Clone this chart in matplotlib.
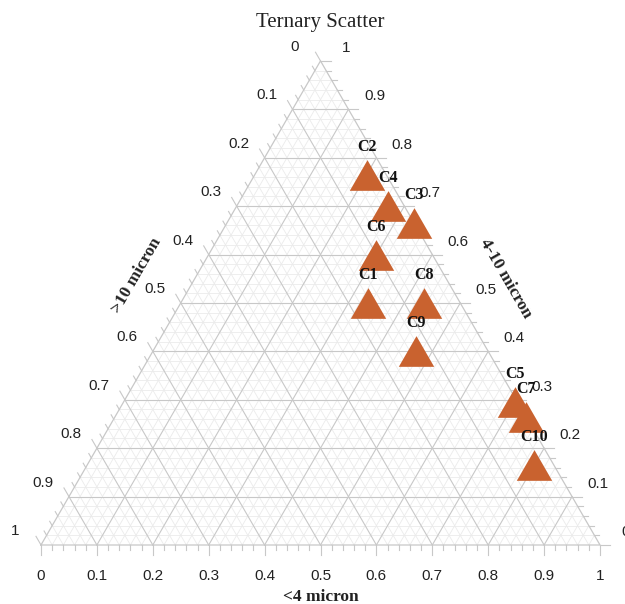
"""Ternary scatter of particle size fractions for samples C1-C10."""

import numpy as np
import matplotlib.pyplot as plt
from matplotlib.path import Path

# Sample names and their size fractions (each row sums to 1)
SAMPLES = ["C1", "C2", "C3", "C4", "C5", "C6", "C7", "C8", "C9", "C10"]
FINE = [0.335, 0.20, 0.335, 0.27, 0.70, 0.30, 0.735, 0.435, 0.47, 0.80]      # <4 micron
MEDIUM = [0.50, 0.765, 0.665, 0.70, 0.295, 0.60, 0.265, 0.50, 0.40, 0.165]   # 4-10 micron
COARSE = [0.165, 0.035, 0.0, 0.03, 0.005, 0.10, 0.0, 0.065, 0.13, 0.035]     # >10 micron

TICK_VALUES = np.round(np.arange(0, 1.01, 0.1), 1)
TICK_LABELS = ["0", "0.1", "0.2", "0.3", "0.4", "0.5", "0.6", "0.7", "0.8", "0.9", "1"]

H = np.sqrt(3) / 2
PX = 559.0  # pixels per unit side length

MAJOR_GRID = "#c8c8c8"
MINOR_GRID = "#ebebeb"
MARKER_COLOR = "#c9622f"
SERIF = "Liberation Serif"
SANS = "Liberation Sans"


def to_xy(a, b):
    """Fine fraction a, medium fraction b -> cartesian position."""
    a = np.asarray(a, dtype=float)
    b = np.asarray(b, dtype=float)
    return a + b / 2, b * H


fig = plt.figure(figsize=(6.25, 6.04), dpi=100)
ax = fig.add_axes([0, 0, 1, 1])
ax.set_xlim(-41 / PX, 584 / PX)
ax.set_ylim(-59 / PX, 545 / PX)
ax.axis("off")

# grid lines in the three directions, minor every 0.02 and major every 0.1
for i in range(1, 50):
    v = i / 50
    major = i % 5 == 0
    color = MAJOR_GRID if major else MINOR_GRID
    lw = 0.8 if major else 0.6
    z = 2 if major else 1
    # constant medium: horizontal
    xs, ys = to_xy([1 - v, 0], [v, v])
    ax.plot(xs, ys, color=color, lw=lw, zorder=z)
    # constant fine
    xs, ys = to_xy([v, v], [0, 1 - v])
    ax.plot(xs, ys, color=color, lw=lw, zorder=z)
    # constant coarse
    xs, ys = to_xy([1 - v, 0], [0, 1 - v])
    ax.plot(xs, ys, color=color, lw=lw, zorder=z)

# outline
xs, ys = to_xy([0, 1, 0, 0], [0, 0, 1, 0])
ax.plot(xs, ys, color=MAJOR_GRID, lw=0.9, zorder=2)

# ticks on the three edges
for i in range(51):
    v = i / 50
    ln = (10 if i % 5 == 0 else 5) / PX
    # bottom edge (fine), pointing down
    x0, y0 = to_xy(v, 0)
    ax.plot([x0, x0], [y0, y0 - ln], color=MAJOR_GRID, lw=0.8)
    # right edge (medium), pointing right
    x0, y0 = to_xy(1 - v, v)
    ax.plot([x0, x0 + ln], [y0, y0], color=MAJOR_GRID, lw=0.8)
    # left edge (coarse), pointing up-left
    x0, y0 = to_xy(0, 1 - v)
    ax.plot([x0, x0 - ln * 0.5], [y0, y0 + ln * H], color=MAJOR_GRID, lw=0.8)

for v, lab in zip(TICK_VALUES, TICK_LABELS):
    x0, y0 = to_xy(v, 0)
    ax.annotate(lab, (x0, y0), xytext=(0, -31), textcoords="offset pixels",
                ha="center", va="center", fontsize=11, family=SANS, color="#222222")
    x0, y0 = to_xy(1 - v, v)
    ax.annotate(lab, (x0, y0), xytext=(26, 13), textcoords="offset pixels",
                ha="center", va="center", fontsize=11, family=SANS, color="#222222")
    x0, y0 = to_xy(0, 1 - v)
    ax.annotate(lab, (x0, y0), xytext=(-26, 14), textcoords="offset pixels",
                ha="center", va="center", fontsize=11, family=SANS, color="#222222")

# equilateral triangle marker
tri = Path([(-1, -H), (1, -H), (0, H), (-1, -H)],
           [Path.MOVETO, Path.LINETO, Path.LINETO, Path.CLOSEPOLY])
px, py = to_xy(FINE, MEDIUM)
for name, x, y in zip(SAMPLES, px, py):
    ax.plot(x, y, marker=tri, markersize=25.5, color=MARKER_COLOR,
            markeredgewidth=0, linestyle="none", zorder=5)
for name, x, y in zip(SAMPLES, px, py):
    ax.annotate(name, (x, y), xytext=(0, 28), textcoords="offset pixels",
                ha="center", va="center", fontsize=11.5, family=SERIF,
                fontweight="bold", color="#111111", zorder=6)

# titles
ax.text(0.5, 522 / PX, "Ternary Scatter", ha="center", va="center",
        fontsize=15, family=SERIF, color="#222222")
ax.text(0.5, -52 / PX, "<4 micron", ha="center", va="center",
        fontsize=12.5, family=SERIF, fontweight="bold", color="#222222")
ax.text((137 - 41) / PX, (545 - 276) / PX, ">10 micron", ha="center", va="center",
        rotation=60, fontsize=12.5, family=SERIF, fontweight="bold", color="#222222")
ax.text((506 - 41) / PX, (545 - 278) / PX, "4-10 micron", ha="center", va="center",
        rotation=-60, fontsize=12.5, family=SERIF, fontweight="bold", color="#222222")

fig.savefig("out.png", dpi=100)
